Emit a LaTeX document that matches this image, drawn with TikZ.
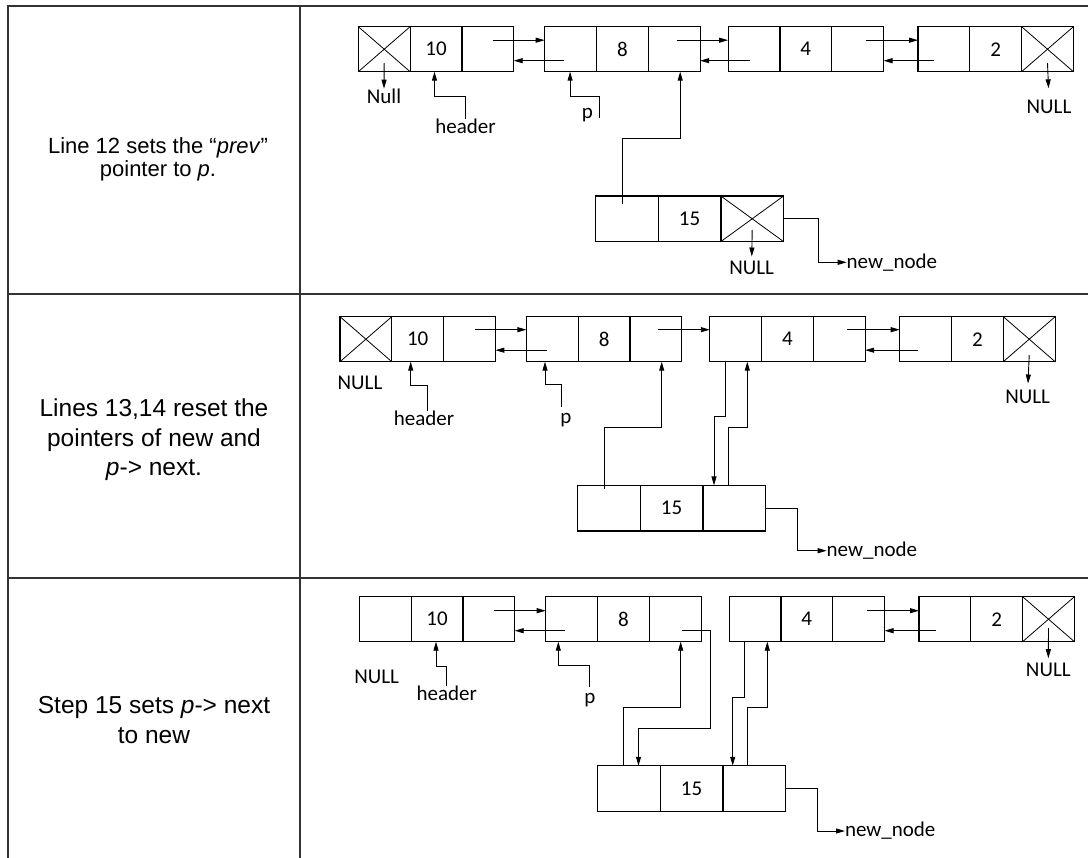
\documentclass[tikz,border=0pt]{standalone}
\usepackage{fontspec}
\newfontfamily\descfont{Liberation Sans}
\newfontfamily\cellfont{Carlito}
\usetikzlibrary{arrows.meta,positioning,calc}

\begin{document}
\begin{tikzpicture}[
  x=1pt, y=-1pt,
  cell/.style={rectangle, draw, line width=1.2pt, minimum width=51.8pt,
    minimum height=45pt, inner sep=0pt, outer sep=0pt,
    font={\cellfont\fontsize{21}{25}\selectfont}},
  wide/.style={cell, minimum width=62.6pt, minimum height=45.5pt},
  nil/.style={path picture={\draw[line width=0.8pt]
    (path picture bounding box.south west) -- (path picture bounding box.north east)
    (path picture bounding box.north west) -- (path picture bounding box.south east);}},
  lbl/.style={inner sep=0pt, outer sep=0pt,
    font={\cellfont\fontsize{21}{25}\selectfont}},
  ptr/.style={-{Stealth[length=9pt, width=5pt, inset=0pt]}, line width=0.9pt},
  nullptr/.style={ptr, shorten >=5pt},
  desc/.style={align=center, inner sep=0pt},
  rule/.style={line width=1.4pt, black!80}
]
\useasboundingbox (0,0) rectangle (1088,858);

% Table frame
\draw[rule] (8,858) -- (8,6) -- (1088,6);
\draw[rule] (300,6) -- (300,858);
\draw[rule] (8,294) -- (1088,294);
\draw[rule] (8,578) -- (1088,578);

% Step descriptions
\node[desc, font={\descfont\fontsize{22}{23.5}\selectfont}] (txt1) at (158,159.5)
  {Line 12 sets the “\textit{prev}”\\pointer to \textit{p}.};
\node[desc, font={\descfont\fontsize{24.5}{29.5}\selectfont}] (txt2) at (154,440)
  {Lines 13,14 reset the\\pointers of new and\\\textit{p}-> next.};
\node[desc, font={\descfont\fontsize{24.5}{29.5}\selectfont}] (txt3) at (154,720.2)
  {Step 15 sets \textit{p}-> next\\to new};

% Row 1: list
\node[cell, nil] (a1p) at (384.2,49.2) {};
\node[cell, right=0pt of a1p] (a1d) {10};
\node[cell, right=0pt of a1d] (a1n) {};
\node[cell, right=31pt of a1n] (b1p) {};
\node[cell, right=0pt of b1p] (b1d) {8};
\node[cell, right=0pt of b1d] (b1n) {};
\node[cell, right=28pt of b1n] (c1p) {};
\node[cell, right=0pt of c1p] (c1d) {4};
\node[cell, right=0pt of c1d] (c1n) {};
\node[cell, right=34.5pt of c1n] (d1p) {};
\node[cell, right=0pt of d1p] (d1d) {2};
\node[cell, nil, right=0pt of d1d] (d1n) {};

\draw[ptr] ($(a1n.west)+(31,-9)$) -- ($(b1p.west)+(0,-9)$);
\draw[ptr] ($(b1p.west)+(19,11.5)$) -- ($(a1n.east)+(0,11.5)$);
\draw[ptr] ($(b1n.west)+(29,-9)$) -- ($(c1p.west)+(0,-9)$);
\draw[ptr] ($(c1p.west)+(22,11.5)$) -- ($(b1n.east)+(0,11.5)$);
\draw[ptr] ($(c1n.west)+(34,-9)$) -- ($(d1p.west)+(0,-9)$);
\draw[ptr] ($(d1p.west)+(16,11.5)$) -- ($(c1n.east)+(0,11.5)$);

\node[lbl, anchor=base] (null1a) at (384,103.3) {Null};
\draw[ptr] ($(a1p.center)+(0,14)$) -- (null1a.north);
\node[lbl, anchor=base] (null1d) at (1049,113.3) {NULL};
\draw[ptr, shorten >=11.5pt] ($(d1n.center)+(0,14)$) -- (null1d.north);
\node[lbl, anchor=base] (hdr1) at (465.5,133.3) {header};
\draw[ptr] (hdr1.north) -- ++(0,-22) -| ($(a1d.south)+(-1.5,0)$);
\node[lbl, anchor=base] (p1) at (587.5,118.3) {p};
\draw[ptr] ($(p1.base east)+(6,0)$) -- ++(0,-21.6) -| ($(b1p.south)+(-0.5,0)$);

% Row 1: new node
\node[wide] (w1p) at (627,218.8) {};
\node[wide, right=0pt of w1p] (w1d) {15};
\node[wide, nil, right=0pt of w1d] (w1n) {};
\draw[ptr] ($(w1p.center)+(-5,-15)$) -- ++(0,-65.5) -| ($(b1n.south)+(6,0)$);
\node[lbl, anchor=base] (null1w) at (751.7,275) {NULL};
\draw[nullptr] ($(w1n.center)+(0,11)$) -- (null1w.north);
\node[lbl, anchor=west] (new1) at (846.7,262.3) {new\_node};
\draw[ptr] (w1n.east) -- ++(35,0) |- (new1.west);

% Row 2: list
\node[cell, nil] (a2p) at (365.9,339.2) {};
\node[cell, right=0pt of a2p] (a2d) {10};
\node[cell, right=0pt of a2d] (a2n) {};
\node[cell, right=31pt of a2n] (b2p) {};
\node[cell, right=0pt of b2p] (b2d) {8};
\node[cell, right=0pt of b2d] (b2n) {};
\node[cell, right=28pt of b2n] (c2p) {};
\node[cell, right=0pt of c2p] (c2d) {4};
\node[cell, right=0pt of c2d] (c2n) {};
\node[cell, right=34.5pt of c2n] (d2p) {};
\node[cell, right=0pt of d2p] (d2d) {2};
\node[cell, nil, right=0pt of d2d] (d2n) {};

\draw[ptr] ($(a2n.west)+(31,-9.5)$) -- ($(b2p.west)+(0,-9.5)$);
\draw[ptr] ($(b2p.west)+(21,11)$) -- ($(a2n.east)+(0,11)$);
\draw[ptr] ($(b2n.west)+(28,-9.5)$) -- ($(c2p.west)+(0,-9.5)$);
\draw[ptr] ($(c2n.west)+(34,-9.5)$) -- ($(d2p.west)+(0,-9.5)$);
\draw[ptr] ($(d2p.west)+(18,11)$) -- ($(c2n.east)+(0,11)$);

\node[lbl, anchor=base] (null2a) at (360,390) {NULL};
\node[lbl, anchor=base] (null2d) at (1027.7,404) {NULL};
\draw[ptr, shorten >=7pt] ($(d2n.center)+(0,16)$) -- (null2d.north);
\node[lbl, anchor=base] (hdr2) at (424,426) {header};
\draw[ptr] ($(hdr2.north)+(3,0)$) -- ++(0,-26) -| ($(a2d.south)+(-7,0)$);
\node[lbl, anchor=base] (p2) at (566,424) {p};
\draw[ptr] ($(p2.north)+(-4.3,-7)$) -- ++(0,-22) -| ($(b2p.south)+(-7.3,0)$);

% Row 2: new node
\node[wide] (w2p) at (609,508.2) {};
\node[wide, right=0pt of w2p] (w2d) {15};
\node[wide, right=0pt of w2d] (w2n) {};
\draw[ptr] ($(w2p.center)+(-5,-19)$) -- ++(0,-61.6) -| ($(b2n.south)+(5.8,0)$);
\draw[ptr] ($(c2p.south)+(-10.7,0)$) -- ++(0,55) -| ($(w2n.north)+(-20.2,0)$);
\draw[ptr] ($(w2n.north)+(-6,0)$) -- ++(0,-57.8) -| ($(c2p.south)+(11.6,0)$);
\node[lbl, anchor=west] (new2) at (826.7,550.7) {new\_node};
\draw[ptr] (w2n.east) -- ++(32,0) |- (new2.west);

% Row 3: list
\node[cell] (a3p) at (385.2,619.2) {};
\node[cell, right=0pt of a3p] (a3d) {10};
\node[cell, right=0pt of a3d] (a3n) {};
\node[cell, right=31pt of a3n] (b3p) {};
\node[cell, right=0pt of b3p] (b3d) {8};
\node[cell, right=0pt of b3d] (b3n) {};
\node[cell, right=28pt of b3n] (c3p) {};
\node[cell, right=0pt of c3p] (c3d) {4};
\node[cell, right=0pt of c3d] (c3n) {};
\node[cell, right=34.5pt of c3n] (d3p) {};
\node[cell, right=0pt of d3p] (d3d) {2};
\node[cell, nil, right=0pt of d3d] (d3n) {};

\draw[ptr] ($(a3n.west)+(31,-8.5)$) -- ($(b3p.west)+(0,-8.5)$);
\draw[ptr] ($(b3p.west)+(19,11.5)$) -- ($(a3n.east)+(0,11.5)$);
\draw[ptr] ($(c3n.west)+(34,-8.5)$) -- ($(d3p.west)+(0,-8.5)$);
\draw[ptr] ($(d3p.west)+(17,11.5)$) -- ($(c3n.east)+(0,11.5)$);

\node[lbl, anchor=base] (null3a) at (376.7,683.3) {NULL};
\node[lbl, anchor=base] (null3d) at (1048.3,676.7) {NULL};
\draw[nullptr] ($(d3n.center)+(0,9)$) -- (null3d.north);
\node[lbl, anchor=base] (hdr3) at (446.7,700.7) {header};
\draw[ptr] ($(hdr3.north)+(-0.7,0)$) -- ++(0,-20) -| ($(a3d.south)+(-1,0)$);
\node[lbl, anchor=base] (p3) at (590,703.3) {p};
\draw[ptr] ($(p3.north)+(-0.7,-6.5)$) -- ++(0,-21.3) -| ($(b3p.south)+(-13.3,0)$);

% Row 3: new node
\node[wide] (w3p) at (629,788.5) {};
\node[wide, right=0pt of w3p] (w3d) {15};
\node[wide, right=0pt of w3d] (w3n) {};
\draw[ptr] ($(b3n.center)+(7,11.5)$) -- ++(28,0) -- ++(0,97.6) -| ($(w3p.north)+(9.5,0)$);
\draw[ptr] ($(w3p.north)+(-5.5,0)$) -- ++(0,-58.5) -| ($(b3n.south)+(5.5,0)$);
\draw[ptr] ($(c3p.south)+(-11,0)$) -- ++(0,56) -| ($(w3n.north)+(-21.5,0)$);
\draw[ptr] ($(w3n.north)+(-7,0)$) -- ++(0,-58.3) -| ($(c3p.south)+(12.3,0)$);
\node[lbl, anchor=west] (new3) at (845,831) {new\_node};
\draw[ptr] (w3n.east) -- ++(32,0) |- (new3.west);

\end{tikzpicture}
\end{document}
